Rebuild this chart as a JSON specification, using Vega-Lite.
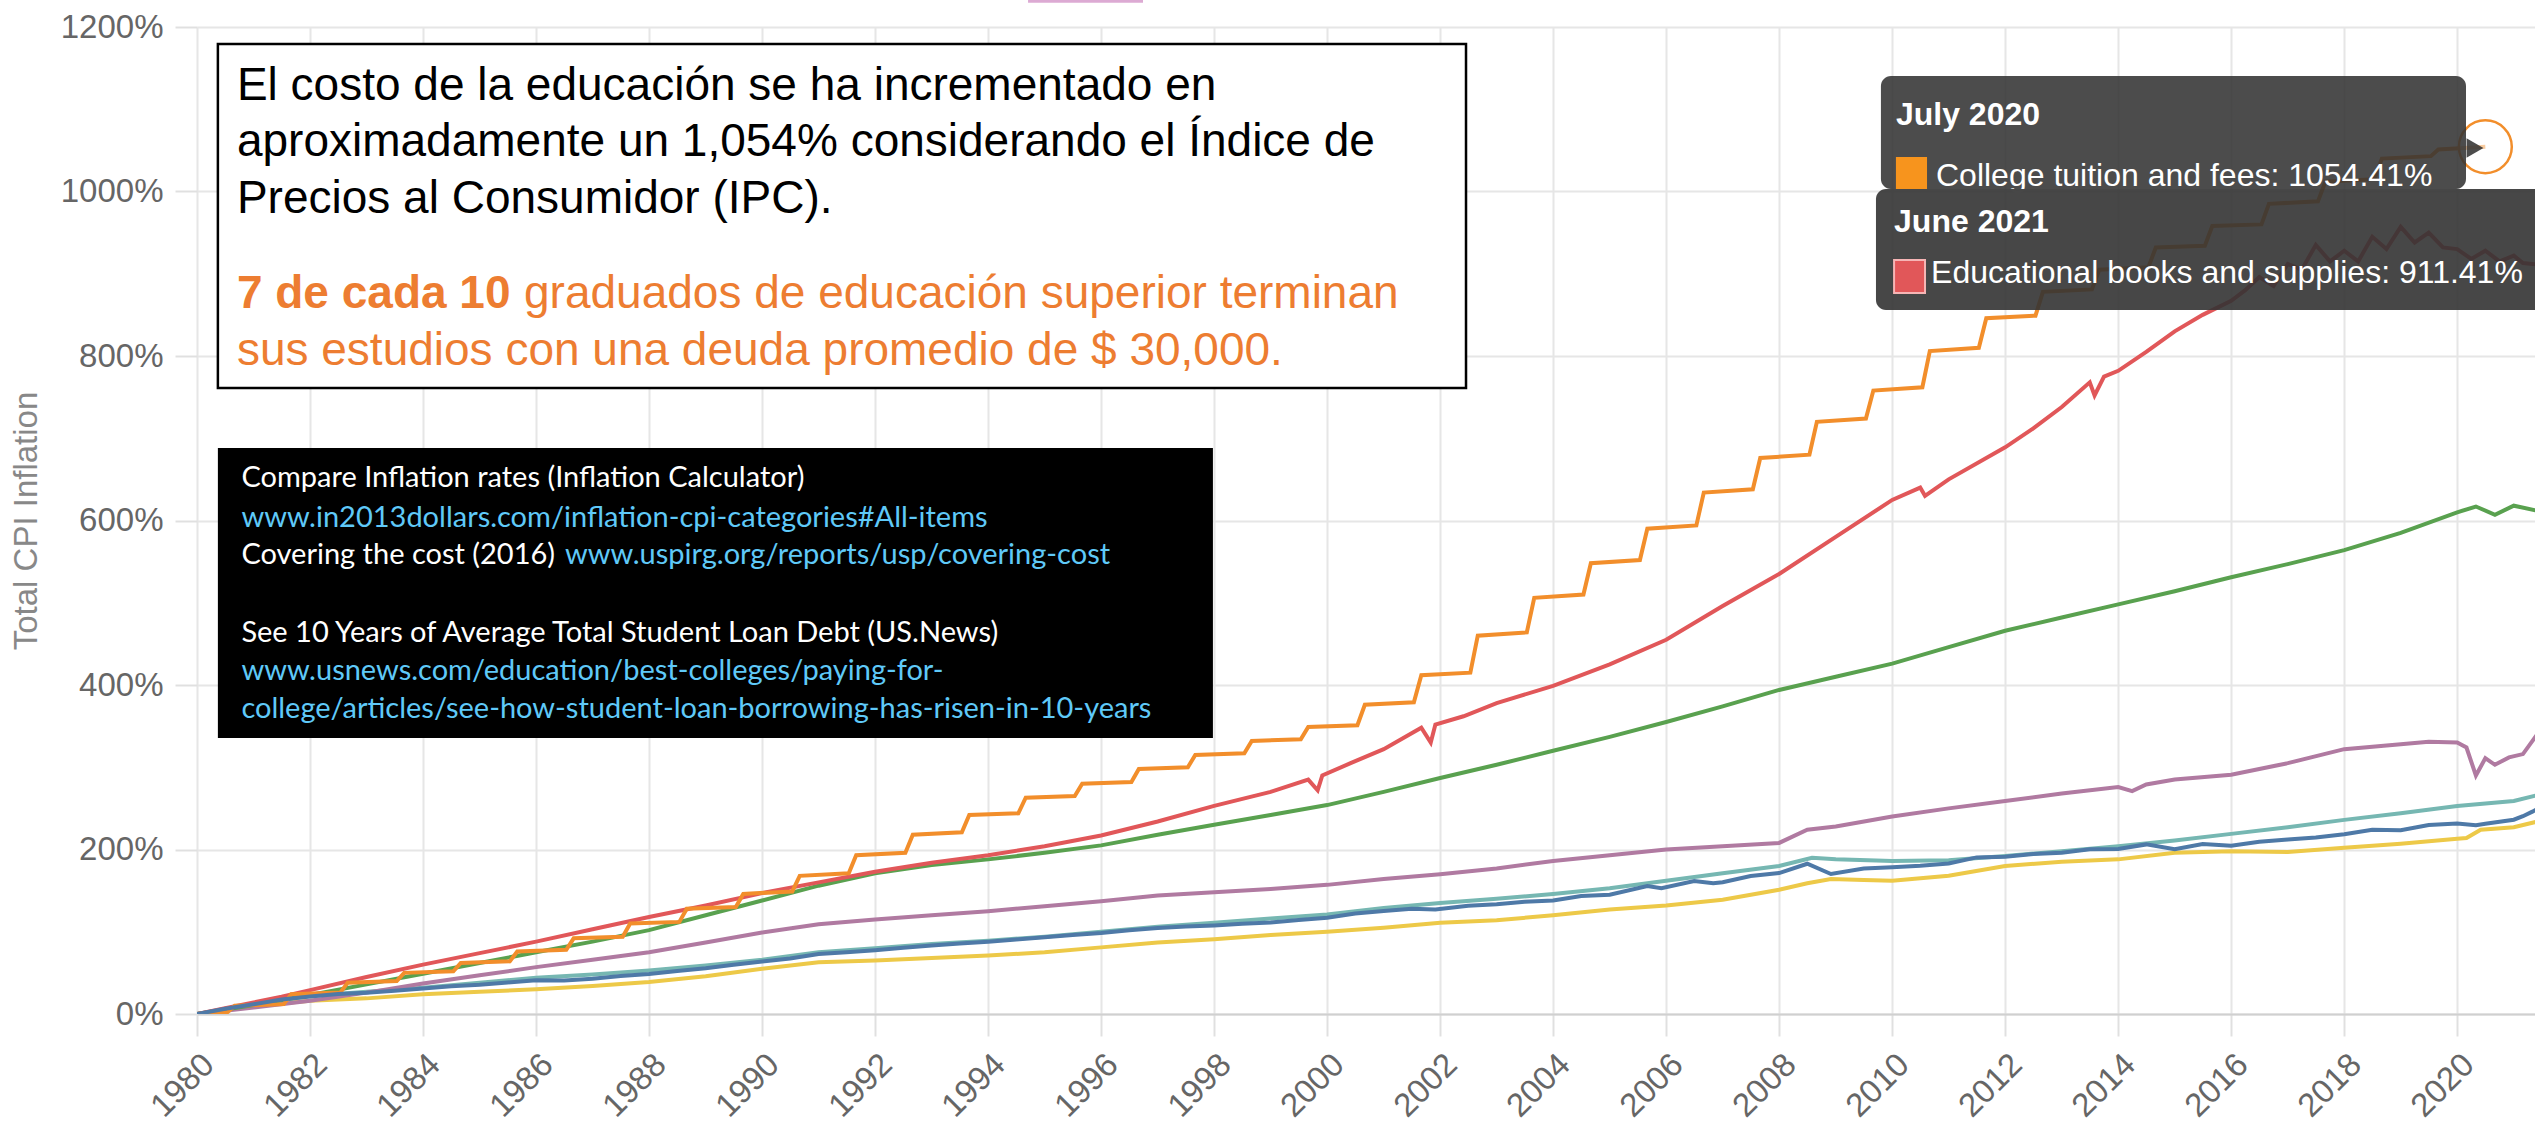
{
"$schema": "https://vega.github.io/schema/vega-lite/v6.json",
"width": 2338, "height": 987,
"autosize": {"type": "none"},
"padding": {"left": 197, "top": 27, "right": 0, "bottom": 117},
"background": "white",
"config": {
 "view": {"stroke": null},
 "font": "Liberation Sans",
 "axis": {"labelFont": "Liberation Sans", "titleFont": "Liberation Sans", "labelFontSize": 33, "labelColor": "#666666", "tickColor": "#e0e0e0", "tickWidth": 2, "tickSize": 22, "gridColor": "#e6e6e6", "gridWidth": 2},
 "axisX": {"labelAngle": -45, "labelAlign": "right", "labelBaseline": "top", "labelPadding": 12, "domain": true, "domainColor": "#d0d0d0", "domainWidth": 2, "labelFlush": false, "labelOverlap": false},
 "axisY": {"labelPadding": 12, "domain": false, "titleFontSize": 33, "titleFontWeight": "normal", "titleColor": "#888888", "titlePadding": 17}
},
"datasets": {
"series": [
{"series":"Food","date":"1980-01-01","value":0},{"series":"Food","date":"1981-01-01","value":10},{"series":"Food","date":"1982-01-01","value":16},{"series":"Food","date":"1983-01-01","value":19},{"series":"Food","date":"1984-01-01","value":24},{"series":"Food","date":"1985-01-01","value":27},{"series":"Food","date":"1986-01-01","value":30},{"series":"Food","date":"1987-01-01","value":34},{"series":"Food","date":"1988-01-01","value":39},{"series":"Food","date":"1989-01-01","value":46},{"series":"Food","date":"1990-01-01","value":55},{"series":"Food","date":"1991-01-01","value":63},{"series":"Food","date":"1992-01-01","value":65},{"series":"Food","date":"1993-01-01","value":68},{"series":"Food","date":"1994-01-01","value":71},{"series":"Food","date":"1995-01-01","value":75},{"series":"Food","date":"1996-01-01","value":81},{"series":"Food","date":"1997-01-01","value":87},{"series":"Food","date":"1998-01-01","value":91},{"series":"Food","date":"1999-01-01","value":96},{"series":"Food","date":"2000-01-01","value":100},{"series":"Food","date":"2001-01-01","value":105},{"series":"Food","date":"2002-01-01","value":111},{"series":"Food","date":"2003-01-01","value":114},{"series":"Food","date":"2004-01-01","value":120},{"series":"Food","date":"2005-01-01","value":127},{"series":"Food","date":"2006-01-01","value":132},{"series":"Food","date":"2007-01-01","value":139},{"series":"Food","date":"2008-01-01","value":151},{"series":"Food","date":"2008-07-01","value":159},{"series":"Food","date":"2008-12-01","value":164},{"series":"Food","date":"2009-07-01","value":163},{"series":"Food","date":"2010-01-01","value":162},{"series":"Food","date":"2011-01-01","value":168},{"series":"Food","date":"2012-01-01","value":180},{"series":"Food","date":"2013-01-01","value":185},{"series":"Food","date":"2014-01-01","value":188},{"series":"Food","date":"2015-01-01","value":196},{"series":"Food","date":"2016-01-01","value":198},{"series":"Food","date":"2017-01-01","value":197},{"series":"Food","date":"2018-01-01","value":202},{"series":"Food","date":"2019-01-01","value":207},{"series":"Food","date":"2020-01-01","value":213},{"series":"Food","date":"2020-03-01","value":214},{"series":"Food","date":"2020-06-01","value":224},{"series":"Food","date":"2021-01-01","value":227},{"series":"Food","date":"2021-06-01","value":234},
{"series":"Housing","date":"1980-01-01","value":0},{"series":"Housing","date":"1981-01-01","value":12},{"series":"Housing","date":"1982-01-01","value":22},{"series":"Housing","date":"1983-01-01","value":27},{"series":"Housing","date":"1984-01-01","value":32},{"series":"Housing","date":"1985-01-01","value":38},{"series":"Housing","date":"1986-01-01","value":44},{"series":"Housing","date":"1987-01-01","value":48},{"series":"Housing","date":"1988-01-01","value":53},{"series":"Housing","date":"1989-01-01","value":59},{"series":"Housing","date":"1990-01-01","value":66},{"series":"Housing","date":"1991-01-01","value":75},{"series":"Housing","date":"1992-01-01","value":80},{"series":"Housing","date":"1993-01-01","value":85},{"series":"Housing","date":"1994-01-01","value":89},{"series":"Housing","date":"1995-01-01","value":94},{"series":"Housing","date":"1996-01-01","value":100},{"series":"Housing","date":"1997-01-01","value":106},{"series":"Housing","date":"1998-01-01","value":111},{"series":"Housing","date":"1999-01-01","value":116},{"series":"Housing","date":"2000-01-01","value":121},{"series":"Housing","date":"2001-01-01","value":129},{"series":"Housing","date":"2002-01-01","value":135},{"series":"Housing","date":"2003-01-01","value":140},{"series":"Housing","date":"2004-01-01","value":146},{"series":"Housing","date":"2005-01-01","value":153},{"series":"Housing","date":"2006-01-01","value":162},{"series":"Housing","date":"2007-01-01","value":171},{"series":"Housing","date":"2008-01-01","value":180},{"series":"Housing","date":"2008-08-01","value":190},{"series":"Housing","date":"2009-01-01","value":188},{"series":"Housing","date":"2010-01-01","value":186},{"series":"Housing","date":"2011-01-01","value":187},{"series":"Housing","date":"2012-01-01","value":192},{"series":"Housing","date":"2013-01-01","value":198},{"series":"Housing","date":"2014-01-01","value":204},{"series":"Housing","date":"2015-01-01","value":211},{"series":"Housing","date":"2016-01-01","value":219},{"series":"Housing","date":"2017-01-01","value":227},{"series":"Housing","date":"2018-01-01","value":236},{"series":"Housing","date":"2019-01-01","value":244},{"series":"Housing","date":"2020-01-01","value":253},{"series":"Housing","date":"2021-01-01","value":259},{"series":"Housing","date":"2021-06-01","value":266},
{"series":"Transportation services","date":"1980-01-01","value":0},{"series":"Transportation services","date":"1981-01-01","value":8},{"series":"Transportation services","date":"1982-01-01","value":16},{"series":"Transportation services","date":"1983-01-01","value":26},{"series":"Transportation services","date":"1984-01-01","value":37},{"series":"Transportation services","date":"1985-01-01","value":47},{"series":"Transportation services","date":"1986-01-01","value":57},{"series":"Transportation services","date":"1987-01-01","value":66},{"series":"Transportation services","date":"1988-01-01","value":75},{"series":"Transportation services","date":"1989-01-01","value":87},{"series":"Transportation services","date":"1990-01-01","value":99},{"series":"Transportation services","date":"1991-01-01","value":109},{"series":"Transportation services","date":"1992-01-01","value":115},{"series":"Transportation services","date":"1993-01-01","value":120},{"series":"Transportation services","date":"1994-01-01","value":125},{"series":"Transportation services","date":"1995-01-01","value":131},{"series":"Transportation services","date":"1996-01-01","value":137},{"series":"Transportation services","date":"1997-01-01","value":144},{"series":"Transportation services","date":"1998-01-01","value":148},{"series":"Transportation services","date":"1999-01-01","value":152},{"series":"Transportation services","date":"2000-01-01","value":157},{"series":"Transportation services","date":"2001-01-01","value":164},{"series":"Transportation services","date":"2002-01-01","value":170},{"series":"Transportation services","date":"2003-01-01","value":177},{"series":"Transportation services","date":"2004-01-01","value":186},{"series":"Transportation services","date":"2005-01-01","value":193},{"series":"Transportation services","date":"2006-01-01","value":200},{"series":"Transportation services","date":"2007-01-01","value":204},{"series":"Transportation services","date":"2008-01-01","value":208},{"series":"Transportation services","date":"2008-07-01","value":224},{"series":"Transportation services","date":"2009-01-01","value":228},{"series":"Transportation services","date":"2010-01-01","value":240},{"series":"Transportation services","date":"2011-01-01","value":250},{"series":"Transportation services","date":"2012-01-01","value":259},{"series":"Transportation services","date":"2013-01-01","value":268},{"series":"Transportation services","date":"2014-01-01","value":276},{"series":"Transportation services","date":"2014-04-01","value":271},{"series":"Transportation services","date":"2014-07-01","value":279},{"series":"Transportation services","date":"2015-01-01","value":285},{"series":"Transportation services","date":"2016-01-01","value":291},{"series":"Transportation services","date":"2017-01-01","value":305},{"series":"Transportation services","date":"2018-01-01","value":322},{"series":"Transportation services","date":"2019-01-01","value":328},{"series":"Transportation services","date":"2019-07-01","value":331},{"series":"Transportation services","date":"2020-01-01","value":330},{"series":"Transportation services","date":"2020-03-01","value":324},{"series":"Transportation services","date":"2020-05-01","value":290},{"series":"Transportation services","date":"2020-07-01","value":311},{"series":"Transportation services","date":"2020-09-01","value":303},{"series":"Transportation services","date":"2020-12-01","value":312},{"series":"Transportation services","date":"2021-03-01","value":316},{"series":"Transportation services","date":"2021-06-01","value":340},
{"series":"Medical care","date":"1980-01-01","value":0},{"series":"Medical care","date":"1981-01-01","value":11},{"series":"Medical care","date":"1982-01-01","value":23},{"series":"Medical care","date":"1983-01-01","value":36},{"series":"Medical care","date":"1984-01-01","value":49},{"series":"Medical care","date":"1985-01-01","value":62},{"series":"Medical care","date":"1986-01-01","value":75},{"series":"Medical care","date":"1987-01-01","value":88},{"series":"Medical care","date":"1988-01-01","value":102},{"series":"Medical care","date":"1989-01-01","value":120},{"series":"Medical care","date":"1990-01-01","value":138},{"series":"Medical care","date":"1991-01-01","value":156},{"series":"Medical care","date":"1992-01-01","value":171},{"series":"Medical care","date":"1993-01-01","value":181},{"series":"Medical care","date":"1994-01-01","value":188},{"series":"Medical care","date":"1995-01-01","value":196},{"series":"Medical care","date":"1996-01-01","value":205},{"series":"Medical care","date":"1997-01-01","value":218},{"series":"Medical care","date":"1998-01-01","value":230},{"series":"Medical care","date":"1999-01-01","value":242},{"series":"Medical care","date":"2000-01-01","value":254},{"series":"Medical care","date":"2001-01-01","value":270},{"series":"Medical care","date":"2002-01-01","value":287},{"series":"Medical care","date":"2003-01-01","value":303},{"series":"Medical care","date":"2004-01-01","value":320},{"series":"Medical care","date":"2005-01-01","value":337},{"series":"Medical care","date":"2006-01-01","value":355},{"series":"Medical care","date":"2007-01-01","value":374},{"series":"Medical care","date":"2008-01-01","value":394},{"series":"Medical care","date":"2009-01-01","value":410},{"series":"Medical care","date":"2010-01-01","value":426},{"series":"Medical care","date":"2011-01-01","value":446},{"series":"Medical care","date":"2012-01-01","value":466},{"series":"Medical care","date":"2013-01-01","value":482},{"series":"Medical care","date":"2014-01-01","value":498},{"series":"Medical care","date":"2015-01-01","value":514},{"series":"Medical care","date":"2016-01-01","value":531},{"series":"Medical care","date":"2017-01-01","value":547},{"series":"Medical care","date":"2018-01-01","value":564},{"series":"Medical care","date":"2019-01-01","value":585},{"series":"Medical care","date":"2020-01-01","value":610},{"series":"Medical care","date":"2020-05-01","value":617},{"series":"Medical care","date":"2020-09-01","value":607},{"series":"Medical care","date":"2021-01-01","value":618},{"series":"Medical care","date":"2021-06-01","value":612},
{"series":"Educational books and supplies","date":"1980-01-01","value":0},{"series":"Educational books and supplies","date":"1980-07-01","value":7},{"series":"Educational books and supplies","date":"1981-01-01","value":14},{"series":"Educational books and supplies","date":"1981-07-01","value":21},{"series":"Educational books and supplies","date":"1982-01-01","value":29},{"series":"Educational books and supplies","date":"1983-01-01","value":45},{"series":"Educational books and supplies","date":"1984-01-01","value":60},{"series":"Educational books and supplies","date":"1985-01-01","value":74},{"series":"Educational books and supplies","date":"1986-01-01","value":88},{"series":"Educational books and supplies","date":"1987-01-01","value":103},{"series":"Educational books and supplies","date":"1988-01-01","value":118},{"series":"Educational books and supplies","date":"1989-01-01","value":132},{"series":"Educational books and supplies","date":"1990-01-01","value":147},{"series":"Educational books and supplies","date":"1991-01-01","value":160},{"series":"Educational books and supplies","date":"1992-01-01","value":173},{"series":"Educational books and supplies","date":"1993-01-01","value":184},{"series":"Educational books and supplies","date":"1994-01-01","value":193},{"series":"Educational books and supplies","date":"1995-01-01","value":204},{"series":"Educational books and supplies","date":"1996-01-01","value":217},{"series":"Educational books and supplies","date":"1997-01-01","value":234},{"series":"Educational books and supplies","date":"1998-01-01","value":253},{"series":"Educational books and supplies","date":"1999-01-01","value":270},{"series":"Educational books and supplies","date":"1999-09-01","value":285},{"series":"Educational books and supplies","date":"1999-11-01","value":272},{"series":"Educational books and supplies","date":"1999-12-01","value":290},{"series":"Educational books and supplies","date":"2000-06-01","value":305},{"series":"Educational books and supplies","date":"2001-01-01","value":322},{"series":"Educational books and supplies","date":"2001-09-01","value":348},{"series":"Educational books and supplies","date":"2001-11-01","value":330},{"series":"Educational books and supplies","date":"2001-12-01","value":352},{"series":"Educational books and supplies","date":"2002-06-01","value":362},{"series":"Educational books and supplies","date":"2003-01-01","value":378},{"series":"Educational books and supplies","date":"2004-01-01","value":399},{"series":"Educational books and supplies","date":"2005-01-01","value":425},{"series":"Educational books and supplies","date":"2006-01-01","value":455},{"series":"Educational books and supplies","date":"2007-01-01","value":496},{"series":"Educational books and supplies","date":"2008-01-01","value":535},{"series":"Educational books and supplies","date":"2009-01-01","value":580},{"series":"Educational books and supplies","date":"2010-01-01","value":625},{"series":"Educational books and supplies","date":"2010-07-01","value":640},{"series":"Educational books and supplies","date":"2010-08-01","value":630},{"series":"Educational books and supplies","date":"2011-01-01","value":650},{"series":"Educational books and supplies","date":"2012-01-01","value":689},{"series":"Educational books and supplies","date":"2012-07-01","value":712},{"series":"Educational books and supplies","date":"2013-01-01","value":738},{"series":"Educational books and supplies","date":"2013-07-01","value":768},{"series":"Educational books and supplies","date":"2013-08-01","value":752},{"series":"Educational books and supplies","date":"2013-10-01","value":775},{"series":"Educational books and supplies","date":"2014-01-01","value":782},{"series":"Educational books and supplies","date":"2014-07-01","value":805},{"series":"Educational books and supplies","date":"2015-01-01","value":830},{"series":"Educational books and supplies","date":"2015-07-01","value":850},{"series":"Educational books and supplies","date":"2016-01-01","value":867},{"series":"Educational books and supplies","date":"2016-04-01","value":880},{"series":"Educational books and supplies","date":"2016-07-01","value":896},{"series":"Educational books and supplies","date":"2016-10-01","value":885},{"series":"Educational books and supplies","date":"2017-01-01","value":912},{"series":"Educational books and supplies","date":"2017-04-01","value":905},{"series":"Educational books and supplies","date":"2017-07-01","value":935},{"series":"Educational books and supplies","date":"2017-10-01","value":915},{"series":"Educational books and supplies","date":"2018-01-01","value":928},{"series":"Educational books and supplies","date":"2018-04-01","value":915},{"series":"Educational books and supplies","date":"2018-07-01","value":945},{"series":"Educational books and supplies","date":"2018-10-01","value":930},{"series":"Educational books and supplies","date":"2019-01-01","value":957},{"series":"Educational books and supplies","date":"2019-04-01","value":938},{"series":"Educational books and supplies","date":"2019-07-01","value":950},{"series":"Educational books and supplies","date":"2019-10-01","value":932},{"series":"Educational books and supplies","date":"2020-01-01","value":930},{"series":"Educational books and supplies","date":"2020-04-01","value":918},{"series":"Educational books and supplies","date":"2020-07-01","value":928},{"series":"Educational books and supplies","date":"2020-10-01","value":915},{"series":"Educational books and supplies","date":"2021-01-01","value":922},{"series":"Educational books and supplies","date":"2021-03-01","value":913},{"series":"Educational books and supplies","date":"2021-06-01","value":911.41},
{"series":"College tuition and fees","date":"1980-01-01","value":0},{"series":"College tuition and fees","date":"1980-07-15","value":2},{"series":"College tuition and fees","date":"1980-09-01","value":10},{"series":"College tuition and fees","date":"1981-07-15","value":12},{"series":"College tuition and fees","date":"1981-09-01","value":24},{"series":"College tuition and fees","date":"1982-07-15","value":26},{"series":"College tuition and fees","date":"1982-09-01","value":38},{"series":"College tuition and fees","date":"1983-07-15","value":40},{"series":"College tuition and fees","date":"1983-09-01","value":50},{"series":"College tuition and fees","date":"1984-07-15","value":52},{"series":"College tuition and fees","date":"1984-09-01","value":62},{"series":"College tuition and fees","date":"1985-07-15","value":64},{"series":"College tuition and fees","date":"1985-09-01","value":76},{"series":"College tuition and fees","date":"1986-07-15","value":78},{"series":"College tuition and fees","date":"1986-09-01","value":92},{"series":"College tuition and fees","date":"1987-07-15","value":94},{"series":"College tuition and fees","date":"1987-09-01","value":110},{"series":"College tuition and fees","date":"1988-07-15","value":112},{"series":"College tuition and fees","date":"1988-09-01","value":128},{"series":"College tuition and fees","date":"1989-07-15","value":130},{"series":"College tuition and fees","date":"1989-09-01","value":146},{"series":"College tuition and fees","date":"1990-07-15","value":149},{"series":"College tuition and fees","date":"1990-09-01","value":168},{"series":"College tuition and fees","date":"1991-07-15","value":171},{"series":"College tuition and fees","date":"1991-09-01","value":193},{"series":"College tuition and fees","date":"1992-07-15","value":196},{"series":"College tuition and fees","date":"1992-09-01","value":218},{"series":"College tuition and fees","date":"1993-07-15","value":221},{"series":"College tuition and fees","date":"1993-09-01","value":242},{"series":"College tuition and fees","date":"1994-07-15","value":244},{"series":"College tuition and fees","date":"1994-09-01","value":263},{"series":"College tuition and fees","date":"1995-07-15","value":265},{"series":"College tuition and fees","date":"1995-09-01","value":280},{"series":"College tuition and fees","date":"1996-07-15","value":282},{"series":"College tuition and fees","date":"1996-09-01","value":298},{"series":"College tuition and fees","date":"1997-07-15","value":300},{"series":"College tuition and fees","date":"1997-09-01","value":315},{"series":"College tuition and fees","date":"1998-07-15","value":317},{"series":"College tuition and fees","date":"1998-09-01","value":332},{"series":"College tuition and fees","date":"1999-07-15","value":334},{"series":"College tuition and fees","date":"1999-09-01","value":349},{"series":"College tuition and fees","date":"2000-07-15","value":351},{"series":"College tuition and fees","date":"2000-09-01","value":376},{"series":"College tuition and fees","date":"2001-07-15","value":379},{"series":"College tuition and fees","date":"2001-09-01","value":412},{"series":"College tuition and fees","date":"2002-07-15","value":415},{"series":"College tuition and fees","date":"2002-09-01","value":460},{"series":"College tuition and fees","date":"2003-07-15","value":464},{"series":"College tuition and fees","date":"2003-09-01","value":506},{"series":"College tuition and fees","date":"2004-07-15","value":510},{"series":"College tuition and fees","date":"2004-09-01","value":548},{"series":"College tuition and fees","date":"2005-07-15","value":552},{"series":"College tuition and fees","date":"2005-09-01","value":590},{"series":"College tuition and fees","date":"2006-07-15","value":594},{"series":"College tuition and fees","date":"2006-09-01","value":634},{"series":"College tuition and fees","date":"2007-07-15","value":638},{"series":"College tuition and fees","date":"2007-09-01","value":676},{"series":"College tuition and fees","date":"2008-07-15","value":680},{"series":"College tuition and fees","date":"2008-09-01","value":720},{"series":"College tuition and fees","date":"2009-07-15","value":724},{"series":"College tuition and fees","date":"2009-09-01","value":758},{"series":"College tuition and fees","date":"2010-07-15","value":762},{"series":"College tuition and fees","date":"2010-09-01","value":806},{"series":"College tuition and fees","date":"2011-07-15","value":810},{"series":"College tuition and fees","date":"2011-09-01","value":846},{"series":"College tuition and fees","date":"2012-07-15","value":849},{"series":"College tuition and fees","date":"2012-09-01","value":878},{"series":"College tuition and fees","date":"2013-07-15","value":881},{"series":"College tuition and fees","date":"2013-09-01","value":905},{"series":"College tuition and fees","date":"2014-07-15","value":908},{"series":"College tuition and fees","date":"2014-09-01","value":932},{"series":"College tuition and fees","date":"2015-07-15","value":934},{"series":"College tuition and fees","date":"2015-09-01","value":958},{"series":"College tuition and fees","date":"2016-07-15","value":960},{"series":"College tuition and fees","date":"2016-09-01","value":985},{"series":"College tuition and fees","date":"2017-07-15","value":988},{"series":"College tuition and fees","date":"2017-09-01","value":1012},{"series":"College tuition and fees","date":"2018-07-15","value":1015},{"series":"College tuition and fees","date":"2018-09-01","value":1040},{"series":"College tuition and fees","date":"2019-07-15","value":1043},{"series":"College tuition and fees","date":"2019-09-01","value":1051},{"series":"College tuition and fees","date":"2020-07-01","value":1054.41},
{"series":"All items","date":"1980-01-01","value":0},{"series":"All items","date":"1980-07-01","value":6.3},{"series":"All items","date":"1981-01-01","value":11.8},{"series":"All items","date":"1981-07-01","value":17.7},{"series":"All items","date":"1982-01-01","value":21.2},{"series":"All items","date":"1982-07-01","value":24.4},{"series":"All items","date":"1983-01-01","value":25.7},{"series":"All items","date":"1983-07-01","value":28.4},{"series":"All items","date":"1984-01-01","value":31.0},{"series":"All items","date":"1984-07-01","value":33.8},{"series":"All items","date":"1985-01-01","value":35.6},{"series":"All items","date":"1985-07-01","value":38.4},{"series":"All items","date":"1986-01-01","value":40.9},{"series":"All items","date":"1986-07-01","value":40.7},{"series":"All items","date":"1987-01-01","value":42.9},{"series":"All items","date":"1987-07-01","value":46.3},{"series":"All items","date":"1988-01-01","value":48.7},{"series":"All items","date":"1988-07-01","value":52.3},{"series":"All items","date":"1989-01-01","value":55.7},{"series":"All items","date":"1989-07-01","value":59.9},{"series":"All items","date":"1990-01-01","value":63.8},{"series":"All items","date":"1990-07-01","value":67.6},{"series":"All items","date":"1991-01-01","value":73.0},{"series":"All items","date":"1991-07-01","value":75.1},{"series":"All items","date":"1992-01-01","value":77.5},{"series":"All items","date":"1992-07-01","value":80.6},{"series":"All items","date":"1993-01-01","value":83.3},{"series":"All items","date":"1993-07-01","value":85.6},{"series":"All items","date":"1994-01-01","value":87.9},{"series":"All items","date":"1994-07-01","value":90.7},{"series":"All items","date":"1995-01-01","value":93.2},{"series":"All items","date":"1995-07-01","value":96.0},{"series":"All items","date":"1996-01-01","value":98.5},{"series":"All items","date":"1996-07-01","value":101.8},{"series":"All items","date":"1997-01-01","value":104.5},{"series":"All items","date":"1997-07-01","value":106.3},{"series":"All items","date":"1998-01-01","value":107.7},{"series":"All items","date":"1998-07-01","value":109.8},{"series":"All items","date":"1999-01-01","value":111.2},{"series":"All items","date":"1999-07-01","value":114.3},{"series":"All items","date":"2000-01-01","value":117.0},{"series":"All items","date":"2000-07-01","value":122.1},{"series":"All items","date":"2001-01-01","value":125.1},{"series":"All items","date":"2001-07-01","value":128.1},{"series":"All items","date":"2001-12-01","value":127.1},{"series":"All items","date":"2002-07-01","value":131.5},{"series":"All items","date":"2003-01-01","value":133.5},{"series":"All items","date":"2003-07-01","value":136.4},{"series":"All items","date":"2004-01-01","value":138.0},{"series":"All items","date":"2004-07-01","value":143.4},{"series":"All items","date":"2005-01-01","value":145.1},{"series":"All items","date":"2005-09-01","value":155.5},{"series":"All items","date":"2005-12-01","value":153.0},{"series":"All items","date":"2006-07-01","value":161.6},{"series":"All items","date":"2006-11-01","value":159.0},{"series":"All items","date":"2007-01-01","value":160.2},{"series":"All items","date":"2007-07-01","value":167.7},{"series":"All items","date":"2008-01-01","value":171.3},{"series":"All items","date":"2008-07-01","value":182.7},{"series":"All items","date":"2008-12-01","value":170.2},{"series":"All items","date":"2009-07-01","value":176.8},{"series":"All items","date":"2010-01-01","value":178.5},{"series":"All items","date":"2010-07-01","value":180.2},{"series":"All items","date":"2011-01-01","value":183.1},{"series":"All items","date":"2011-07-01","value":190.4},{"series":"All items","date":"2012-01-01","value":191.3},{"series":"All items","date":"2012-07-01","value":194.5},{"series":"All items","date":"2013-01-01","value":196.0},{"series":"All items","date":"2013-07-01","value":200.3},{"series":"All items","date":"2014-01-01","value":200.7},{"series":"All items","date":"2014-07-01","value":206.2},{"series":"All items","date":"2015-01-01","value":200.4},{"series":"All items","date":"2015-07-01","value":206.7},{"series":"All items","date":"2016-01-01","value":204.5},{"series":"All items","date":"2016-07-01","value":209.3},{"series":"All items","date":"2017-01-01","value":212.1},{"series":"All items","date":"2017-07-01","value":214.6},{"series":"All items","date":"2018-01-01","value":218.6},{"series":"All items","date":"2018-07-01","value":223.9},{"series":"All items","date":"2019-01-01","value":223.5},{"series":"All items","date":"2019-07-01","value":229.8},{"series":"All items","date":"2020-01-01","value":231.6},{"series":"All items","date":"2020-05-01","value":229.5},{"series":"All items","date":"2020-07-01","value":231.4},{"series":"All items","date":"2021-01-01","value":236.2},{"series":"All items","date":"2021-03-01","value":240.5},{"series":"All items","date":"2021-05-01","value":246.0},{"series":"All items","date":"2021-06-01","value":249.2}
]
},
"layer": [
{
 "data": {"name": "series"},
 "mark": {"type": "line", "strokeWidth": 4, "clip": true},
 "encoding": {
  "x": {"field": "date", "type": "temporal", "title": null,
   "scale": {"domain": [{"year": 1980, "month": 1, "date": 1}, {"year": 2021, "month": 5, "date": 18}]},
   "axis": {"format": "%Y", "values": [{"year":1980},{"year":1982},{"year":1984},{"year":1986},{"year":1988},{"year":1990},{"year":1992},{"year":1994},{"year":1996},{"year":1998},{"year":2000},{"year":2002},{"year":2004},{"year":2006},{"year":2008},{"year":2010},{"year":2012},{"year":2014},{"year":2016},{"year":2018},{"year":2020}]}},
  "y": {"field": "value", "type": "quantitative", "title": "Total CPI Inflation",
   "scale": {"domain": [0, 1200], "nice": false, "zero": true},
   "axis": {"values": [0, 200, 400, 600, 800, 1000, 1200], "labelExpr": "datum.value + '%'"}},
  "color": {"field": "series", "type": "nominal", "legend": null, "sort": null,
   "scale": {"domain": ["Food", "Housing", "Transportation services", "Medical care", "Educational books and supplies", "College tuition and fees", "All items"],
    "range": ["#edc948", "#76b7b2", "#b07aa1", "#59a14f", "#e15759", "#f28e2b", "#4e79a7"]}}
 }
},
{
 "data": {"values": [{"x": "1994-09-16", "x2": "1996-09-28", "y": 1233.5, "y2": 1229.5}]},
 "mark": {"type": "rect", "fill": "#dcaad3", "clip": false},
 "encoding": {"x": {"field": "x", "type": "temporal", "title": null}, "x2": {"field": "x2"}, "y": {"field": "y", "type": "quantitative", "title": "Total CPI Inflation"}, "y2": {"field": "y2"}}
},
{
 "data": {"values": [{"date": "2020-07-01", "value": 1054.41}]},
 "mark": {"type": "point", "shape": "circle", "size": 2800, "filled": true, "fill": "#ffffff", "fillOpacity": 0.55, "stroke": "#f28e2b", "strokeWidth": 2.5, "opacity": 1},
 "encoding": {"x": {"field": "date", "type": "temporal", "title": null}, "y": {"field": "value", "type": "quantitative", "title": "Total CPI Inflation"}}
},
{
 "data": {"values": [{"x": "1980-05-15", "x2": "2002-06-17", "y": 1179.3, "y2": 761.1}]},
 "mark": {"type": "rect", "fill": "#ffffff", "stroke": "#000000", "strokeWidth": 2.5},
 "encoding": {"x": {"field": "x", "type": "temporal", "title": null}, "x2": {"field": "x2"}, "y": {"field": "y", "type": "quantitative", "title": "Total CPI Inflation"}, "y2": {"field": "y2"}}
},
{
 "data": {"values": [
  {"x": "1980-09-15", "y": 1111.3, "text": "El costo de la educación se ha incrementado en"},
  {"x": "1980-09-15", "y": 1042.6, "text": "aproximadamente un 1,054% considerando el Índice de"},
  {"x": "1980-09-15", "y": 973.9, "text": "Precios al Consumidor (IPC)."}
 ]},
 "mark": {"type": "text", "align": "left", "baseline": "alphabetic", "font": "Liberation Sans", "fontSize": 46, "color": "#000000"},
 "encoding": {"x": {"field": "x", "type": "temporal", "title": null}, "y": {"field": "y", "type": "quantitative", "title": "Total CPI Inflation"}, "text": {"field": "text"}}
},
{
 "data": {"values": [{"x": "1980-09-15", "y": 858.4, "text": "7 de cada 10"}]},
 "mark": {"type": "text", "align": "left", "baseline": "alphabetic", "font": "Liberation Sans", "fontSize": 46, "fontWeight": "bold", "color": "#ED7D31"},
 "encoding": {"x": {"field": "x", "type": "temporal", "title": null}, "y": {"field": "y", "type": "quantitative", "title": "Total CPI Inflation"}, "text": {"field": "text"}}
},
{
 "data": {"values": [
  {"x": "1985-10-15", "y": 858.4, "text": "graduados de educación superior terminan"},
  {"x": "1980-09-15", "y": 789.1, "text": "sus estudios con una deuda promedio de $ 30,000."}
 ]},
 "mark": {"type": "text", "align": "left", "baseline": "alphabetic", "font": "Liberation Sans", "fontSize": 46, "color": "#ED7D31"},
 "encoding": {"x": {"field": "x", "type": "temporal", "title": null}, "y": {"field": "y", "type": "quantitative", "title": "Total CPI Inflation"}, "text": {"field": "text"}}
},
{
 "data": {"values": [{"x": "1980-05-15", "x2": "1997-12-24", "y": 688.1, "y2": 335.6}]},
 "mark": {"type": "rect", "fill": "#000000"},
 "encoding": {"x": {"field": "x", "type": "temporal", "title": null}, "x2": {"field": "x2"}, "y": {"field": "y", "type": "quantitative", "title": "Total CPI Inflation"}, "y2": {"field": "y2"}}
},
{
 "data": {"values": [
  {"x": "1980-10-14", "y": 640.7, "text": "Compare Inflation rates (Inflation Calculator)"},
  {"x": "1980-10-14", "y": 547.1, "text": "Covering the cost (2016)"},
  {"x": "1980-10-14", "y": 452.3, "text": "See 10 Years of Average Total Student Loan Debt (US.News)"}
 ]},
 "mark": {"type": "text", "align": "left", "baseline": "alphabetic", "font": "Lato", "fontSize": 29, "color": "#ffffff"},
 "encoding": {"x": {"field": "x", "type": "temporal", "title": null}, "y": {"field": "y", "type": "quantitative", "title": "Total CPI Inflation"}, "text": {"field": "text"}}
},
{
 "data": {"values": [
  {"x": "1980-10-14", "y": 592.1, "text": "www.in2013dollars.com/inflation-cpi-categories#All-items"},
  {"x": "1986-07-07", "y": 547.1, "text": "www.uspirg.org/reports/usp/covering-cost"},
  {"x": "1980-10-14", "y": 406.1, "text": "www.usnews.com/education/best-colleges/paying-for-"},
  {"x": "1980-10-14", "y": 359.9, "text": "college/articles/see-how-student-loan-borrowing-has-risen-in-10-years"}
 ]},
 "mark": {"type": "text", "align": "left", "baseline": "alphabetic", "font": "Lato", "fontSize": 29, "color": "#5fc9f8"},
 "encoding": {"x": {"field": "x", "type": "temporal", "title": null}, "y": {"field": "y", "type": "quantitative", "title": "Total CPI Inflation"}, "text": {"field": "text"}}
},
{
 "data": {"values": [{"x": "2009-10-20", "x2": "2020-02-27", "y": 1140.4, "y2": 1003.0}]},
 "mark": {"type": "rect", "fill": "#333333", "fillOpacity": 0.88, "cornerRadius": 10},
 "encoding": {"x": {"field": "x", "type": "temporal", "title": null}, "x2": {"field": "x2"}, "y": {"field": "y", "type": "quantitative", "title": "Total CPI Inflation"}, "y2": {"field": "y2"}}
},
{
 "data": {"values": [{"date": "2020-04-25", "value": 1052.9}]},
 "mark": {"type": "point", "shape": "triangle-right", "size": 380, "filled": true, "fill": "#333333", "fillOpacity": 0.88, "strokeWidth": 0},
 "encoding": {"x": {"field": "date", "type": "temporal", "title": null}, "y": {"field": "value", "type": "quantitative", "title": "Total CPI Inflation"}}
},
{
 "data": {"values": [{"x": "2010-01-25", "x2": "2010-08-14", "y": 1041.9, "y2": 1003.0}]},
 "mark": {"type": "rect", "fill": "#f7941d"},
 "encoding": {"x": {"field": "x", "type": "temporal", "title": null}, "x2": {"field": "x2"}, "y": {"field": "y", "type": "quantitative", "title": "Total CPI Inflation"}, "y2": {"field": "y2"}}
},
{
 "data": {"values": [{"x": "2010-01-25", "y": 1080.9, "text": "July 2020"}]},
 "mark": {"type": "text", "align": "left", "baseline": "alphabetic", "font": "Liberation Sans", "fontSize": 32, "fontWeight": "bold", "color": "#ffffff"},
 "encoding": {"x": {"field": "x", "type": "temporal", "title": null}, "y": {"field": "y", "type": "quantitative", "title": "Total CPI Inflation"}, "text": {"field": "text"}}
},
{
 "data": {"values": [{"x": "2010-10-11", "y": 1007.0, "text": "College tuition and fees: 1054.41%"}]},
 "mark": {"type": "text", "align": "left", "baseline": "alphabetic", "font": "Liberation Sans", "fontSize": 32, "color": "#ffffff"},
 "encoding": {"x": {"field": "x", "type": "temporal", "title": null}, "y": {"field": "y", "type": "quantitative", "title": "Total CPI Inflation"}, "text": {"field": "text"}}
},
{
 "data": {"values": [{"x": "2009-09-18", "x2": "2022-06-01", "y": 1003.0, "y2": 855.9}]},
 "mark": {"type": "rect", "fill": "#333333", "fillOpacity": 0.9, "cornerRadius": 10},
 "encoding": {"x": {"field": "x", "type": "temporal", "title": null}, "x2": {"field": "x2"}, "y": {"field": "y", "type": "quantitative", "title": "Total CPI Inflation"}, "y2": {"field": "y2"}}
},
{
 "data": {"values": [{"x": "2010-01-13", "x2": "2010-08-01", "y": 916.7, "y2": 876.6}]},
 "mark": {"type": "rect", "fill": "#e15759", "stroke": "#f6b5b5", "strokeWidth": 2},
 "encoding": {"x": {"field": "x", "type": "temporal", "title": null}, "x2": {"field": "x2"}, "y": {"field": "y", "type": "quantitative", "title": "Total CPI Inflation"}, "y2": {"field": "y2"}}
},
{
 "data": {"values": [{"x": "2010-01-13", "y": 950.8, "text": "June 2021"}]},
 "mark": {"type": "text", "align": "left", "baseline": "alphabetic", "font": "Liberation Sans", "fontSize": 32, "fontWeight": "bold", "color": "#ffffff"},
 "encoding": {"x": {"field": "x", "type": "temporal", "title": null}, "y": {"field": "y", "type": "quantitative", "title": "Total CPI Inflation"}, "text": {"field": "text"}}
},
{
 "data": {"values": [{"x": "2010-09-09", "y": 888.8, "text": "Educational books and supplies: 911.41%"}]},
 "mark": {"type": "text", "align": "left", "baseline": "alphabetic", "font": "Liberation Sans", "fontSize": 32, "color": "#ffffff"},
 "encoding": {"x": {"field": "x", "type": "temporal", "title": null}, "y": {"field": "y", "type": "quantitative", "title": "Total CPI Inflation"}, "text": {"field": "text"}}
}
]
}
